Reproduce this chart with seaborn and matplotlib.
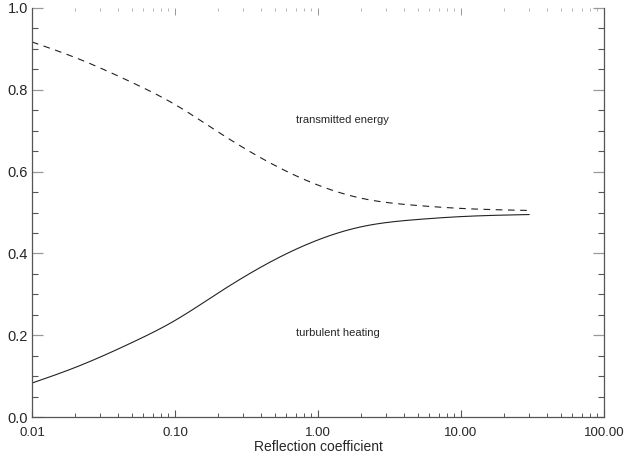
import numpy as np
import pandas as pd
import matplotlib
matplotlib.use("Agg")
import matplotlib.pyplot as plt
import seaborn as sns
from matplotlib.ticker import LogLocator, MultipleLocator, FixedLocator, NullFormatter

# values
reflection = [0.01, 0.02, 0.05, 0.1, 0.2, 0.5, 1.0, 2.0, 5.0, 10.0, 30.0]
transmitted = [0.917, 0.879, 0.818, 0.764, 0.697, 0.615, 0.567, 0.535, 0.517, 0.510, 0.505]
heating = [0.083, 0.121, 0.182, 0.236, 0.303, 0.385, 0.433, 0.465, 0.483, 0.490, 0.495]

xticks = [0.01, 0.1, 1, 10, 100]
xticklabels = ["0.01", "0.10", "1.00", "10.00", "100.00"]
yticks = [0.0, 0.2, 0.4, 0.6, 0.8, 1.0]
yticklabels = ["0.0", "0.2", "0.4", "0.6", "0.8", "1.0"]

sns.set_style("ticks")
plt.rcParams["font.family"] = ["Liberation Sans", "DejaVu Sans"]


def spline(x, y, xn):
    # natural cubic spline through the read points (in log-x)
    x = np.asarray(x, float)
    y = np.asarray(y, float)
    n = len(x)
    h = np.diff(x)
    A = np.zeros((n, n))
    r = np.zeros(n)
    A[0, 0] = A[-1, -1] = 1
    for i in range(1, n - 1):
        A[i, i - 1] = h[i - 1]
        A[i, i] = 2 * (h[i - 1] + h[i])
        A[i, i + 1] = h[i]
        r[i] = 6 * ((y[i + 1] - y[i]) / h[i] - (y[i] - y[i - 1]) / h[i - 1])
    M = np.linalg.solve(A, r)
    k = np.clip(np.searchsorted(x, xn) - 1, 0, n - 2)
    a = x[k + 1] - xn
    b = xn - x[k]
    hk = h[k]
    return (M[k] * a**3 / (6 * hk) + M[k + 1] * b**3 / (6 * hk)
            + (y[k] / hk - M[k] * hk / 6) * a + (y[k + 1] / hk - M[k + 1] * hk / 6) * b)


lx = np.log10(reflection)
lxs = np.linspace(lx[0], lx[-1], 400)
xs = 10 ** lxs

df = pd.DataFrame({
    "x": np.concatenate([xs, xs]),
    "y": np.concatenate([spline(lx, transmitted, lxs), spline(lx, heating, lxs)]),
    "curve": ["transmitted"] * len(xs) + ["heating"] * len(xs),
})

fig = plt.figure(figsize=(6.26, 4.57), dpi=100)
ax = fig.add_axes([0.0511, 0.0875, 0.9138, 0.895])

sns.lineplot(data=df, x="x", y="y", hue="curve", style="curve", ax=ax,
             palette={"transmitted": "#222222", "heating": "#222222"},
             dashes={"transmitted": (6, 5), "heating": ""}, lw=0.8, legend=False)

ax.set_xscale("log")
ax.set_xlim(0.01, 100)
ax.set_ylim(0, 1)

ax.xaxis.set_major_locator(FixedLocator(xticks))
ax.set_xticklabels(xticklabels)
ax.xaxis.set_minor_locator(LogLocator(base=10, subs=np.arange(2, 10)))
ax.xaxis.set_minor_formatter(NullFormatter())
ax.yaxis.set_major_locator(FixedLocator(yticks))
ax.set_yticklabels(yticklabels)
ax.yaxis.set_minor_locator(MultipleLocator(0.05))

for s in ["left", "right", "bottom"]:
    ax.spines[s].set_visible(True)
    ax.spines[s].set_color("#555555")
    ax.spines[s].set_linewidth(0.9)
ax.spines["top"].set_visible(False)

ax.tick_params(axis="x", which="major", direction="in", length=5, width=0.8,
               color="#555555", labelsize=9.5, pad=7)
ax.tick_params(axis="x", which="minor", direction="in", length=3, width=0.7,
               color="#555555")
ax.tick_params(axis="y", which="major", direction="in", length=8, width=0.9,
               color="#999999", labelsize=10.5, pad=3, right=True)
ax.tick_params(axis="y", which="minor", direction="in", length=4, width=0.8,
               color="#555555", right=True)

# faint ticks along the top edge, no top line
top = ax.secondary_xaxis("top")
top.spines["top"].set_visible(False)
top.xaxis.set_major_locator(FixedLocator(xticks))
top.xaxis.set_minor_locator(LogLocator(base=10, subs=np.arange(2, 10)))
top.xaxis.set_minor_formatter(NullFormatter())
top.set_xticklabels([])
top.tick_params(which="major", direction="in", length=5, width=0.6, color="#888888")
top.tick_params(which="minor", direction="in", length=2, width=0.6, color="#aaaaaa")

ax.set_xlabel("Reflection coefficient", fontsize=10, labelpad=1)
ax.set_ylabel("")

ax.text(0.70, 0.726, "transmitted energy", fontsize=8, va="center")
ax.text(0.70, 0.205, "turbulent heating", fontsize=8, va="center")

fig.savefig("out.png", dpi=100)
